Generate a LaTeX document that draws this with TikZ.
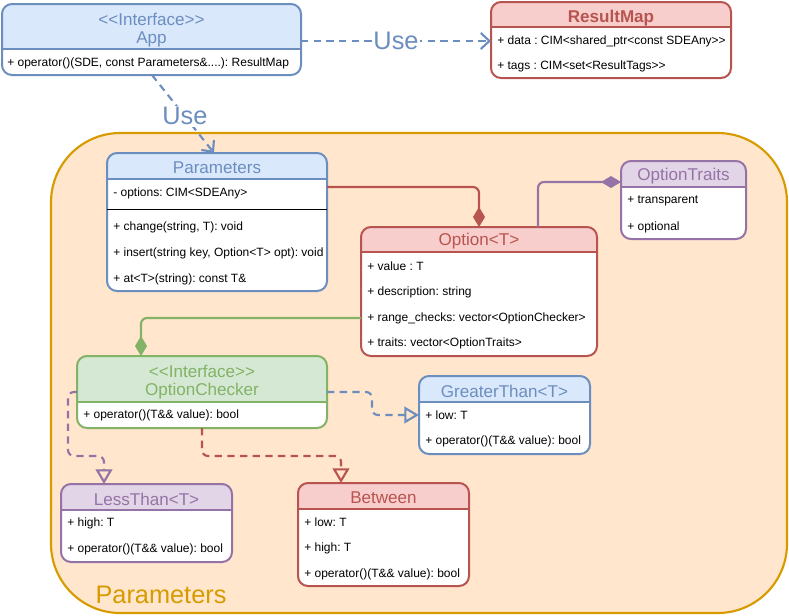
\documentclass[tikz,border=0pt]{standalone}
\usepackage{fontspec}
\setmainfont{Liberation Sans}
\usetikzlibrary{arrows.meta,fit,calc}
\definecolor{bluefill}{HTML}{DAE8FC}\definecolor{blueline}{HTML}{6C8EBF}
\definecolor{redfill}{HTML}{F8CECC}\definecolor{redline}{HTML}{B85450}
\definecolor{purplefill}{HTML}{E1D5E7}\definecolor{purpleline}{HTML}{9673A6}
\definecolor{greenfill}{HTML}{D5E8D4}\definecolor{greenline}{HTML}{82B366}
\definecolor{orangefill}{HTML}{FFE6CC}\definecolor{orangeline}{HTML}{D79B00}
\newcommand\ltlt{<\kern0pt<}
\newcommand\gtgt{>\kern0pt>}
\newcommand\umlclass[7]{%
  \fill[white, rounded corners=7.5pt] (#2,#3) rectangle (#4,#5);
  \begin{scope}
    \clip (#2,#3) rectangle (#4,#6);
    \fill[#7fill, rounded corners=7.5pt] (#2,#3) rectangle (#4,#5);
  \end{scope}
  \node[draw=#7line, line width=1.5pt, rounded corners=7.5pt, fit={(#2,#3) (#4,#5)}, inner sep=0pt, outer sep=0pt] (#1) {};
  \draw[#7line, line width=1.5pt] (#2,#6) -- (#4,#6);
}
\begin{document}
\frenchspacing
\begin{tikzpicture}[x=0.75pt,y=-0.75pt,
  row/.style={anchor=west, inner sep=0pt, font=\fontsize{9}{11}\selectfont},
  ctitle/.style={inner sep=0pt, font=\fontsize{12.8}{15}\selectfont},
  uselabel/.style={fill=white, inner sep=1pt, text=blueline, font=\fontsize{19}{22}\selectfont},
  usearrow/.style={draw=blueline, line width=1.6pt, dash pattern=on 5.5pt off 4pt, -{Straight Barb[length=6.5pt, width=12pt]}},
  realize/.style={draw=#1line, line width=1.6pt, dash pattern=on 5.5pt off 4pt, rounded corners=4.5pt, -{Triangle[open, length=11pt, width=12.5pt]}},
  compose/.style={draw=#1line, line width=1.6pt, rounded corners=4.5pt, -{Diamond[length=15pt, width=9pt, fill=#1line]}},
]
\useasboundingbox (0,0) rectangle (789,615);

% container
\node[draw=orangeline, fill=orangefill, line width=1.6pt, rounded corners=52pt, fit={(51,133) (787,613)}, inner sep=0pt, outer sep=0pt] (pkg) {};
\node[text=orangeline, inner sep=0pt, font=\fontsize{19}{22}\selectfont] (pkglabel) at (161,595) {Parameters};

% App
\umlclass{app}{2}{4}{301}{75}{49}{blue}
\node[ctitle, text=blueline] (app-t1) at (151.5,19) {\ltlt Interface\gtgt};
\node[ctitle, text=blueline] (app-t2) at (151.5,39) {App};
\node[row] (app-r1) at (7,63) {+ operator()(SDE, const Parameters\&....): ResultMap};

% ResultMap
\umlclass{resultmap}{491}{2}{731}{78}{27}{red}
\node[ctitle, text=redline, font=\fontsize{12.8}{15}\selectfont\bfseries] (rm-t) at (611,18) {ResultMap};
\node[row] (rm-r1) at (497,41) {+ data : CIM<shared\_ptr<const SDEAny\gtgt};
\node[row] (rm-r2) at (497,66) {+ tags : CIM<set<ResultTags\gtgt};

% Parameters class
\umlclass{paramcls}{107}{153}{327}{291}{179}{blue}
\node[ctitle, text=blueline] (pc-t) at (217,168) {Parameters};
\node[row] (pc-r1) at (113,193) {- options: CIM<SDEAny>};
\draw[black, line width=0.75pt] (107,209) -- (327,209);
\node[row] (pc-r2) at (113,227) {+ change(string, T): void};
\node[row] (pc-r3) at (113,253) {+ insert(string key, Option<T> opt): void};
\node[row] (pc-r4) at (113,279) {+ at<T>(string): const T\&};

% Option<T>
\umlclass{option}{361}{227}{597}{356}{252}{red}
\node[ctitle, text=redline] (op-t) at (479,241) {Option<T>};
\node[row] (op-r1) at (367,266) {+ value : T};
\node[row] (op-r2) at (367,292) {+ description: string};
\node[row] (op-r3) at (367,318) {+ range\_checks: vector<OptionChecker>};
\node[row] (op-r4) at (367,343) {+ traits: vector<OptionTraits>};

% OptionTraits
\umlclass{traits}{621}{161}{746}{239}{187}{purple}
\node[ctitle, text=purpleline] (ot-t) at (683.5,176) {OptionTraits};
\node[row] (ot-r1) at (627,201) {+ transparent};
\node[row] (ot-r2) at (627,227) {+ optional};

% OptionChecker
\umlclass{checker}{77}{356}{327}{428}{402}{green}
\node[ctitle, text=greenline] (oc-t1) at (202,371) {\ltlt Interface\gtgt};
\node[ctitle, text=greenline] (oc-t2) at (202,391) {OptionChecker};
\node[row] (oc-r1) at (83,415) {+ operator()(T\&\& value): bool};

% GreaterThan<T>
\umlclass{greater}{419}{376}{590}{454}{402}{blue}
\node[ctitle, text=blueline] (gt-t) at (504.5,391) {GreaterThan<T>};
\node[row] (gt-r1) at (425,415) {+ low: T};
\node[row] (gt-r2) at (425,441) {+ operator()(T\&\& value): bool};

% LessThan<T>
\umlclass{less}{61}{484}{232}{562}{510}{purple}
\node[ctitle, text=purpleline] (lt-t) at (146.5,499) {LessThan<T>};
\node[row] (lt-r1) at (67,523) {+ high: T};
\node[row] (lt-r2) at (67,549) {+ operator()(T\&\& value): bool};

% Between
\umlclass{between}{298}{483}{469}{586}{509}{red}
\node[ctitle, text=redline] (bt-t) at (383.5,498) {Between};
\node[row] (bt-r1) at (304,522) {+ low: T};
\node[row] (bt-r2) at (304,548) {+ high: T};
\node[row] (bt-r3) at (304,574) {+ operator()(T\&\& value): bool};

% connectors
\draw[usearrow] ($(app.north east)+(0,37)$) -- node[uselabel, midway] (use1) {Use} ($(resultmap.north west)+(0,39)$);
\draw[usearrow] ($(app.south west)+(150,0)$) -- node[uselabel, pos=0.53] (use2) {Use} ($(paramcls.north west)+(107,0)$);
\draw[compose=red] ($(paramcls.north east)+(0,34)$) -| (option.north);
\draw[compose=purple] ($(option.north west)+(177,0)$) |- ($(traits.north west)+(0,21)$);
\draw[compose=green] ($(option.north west)+(0,91)$) -| ($(checker.north west)+(64,0)$);
\draw[realize=blue] ($(checker.north east)+(0,36)$) -- ++(45,0) |- (greater.west);
\draw[realize=purple] ($(checker.north west)+(0,36)$) -- ++(-9,0) |- ($(less.north west)+(43,-28)$) -- ($(less.north west)+(43,0)$);
\draw[realize=red] (checker.south) -- ++(0,28) -| ($(between.north west)+(43,0)$);
\end{tikzpicture}
\end{document}
